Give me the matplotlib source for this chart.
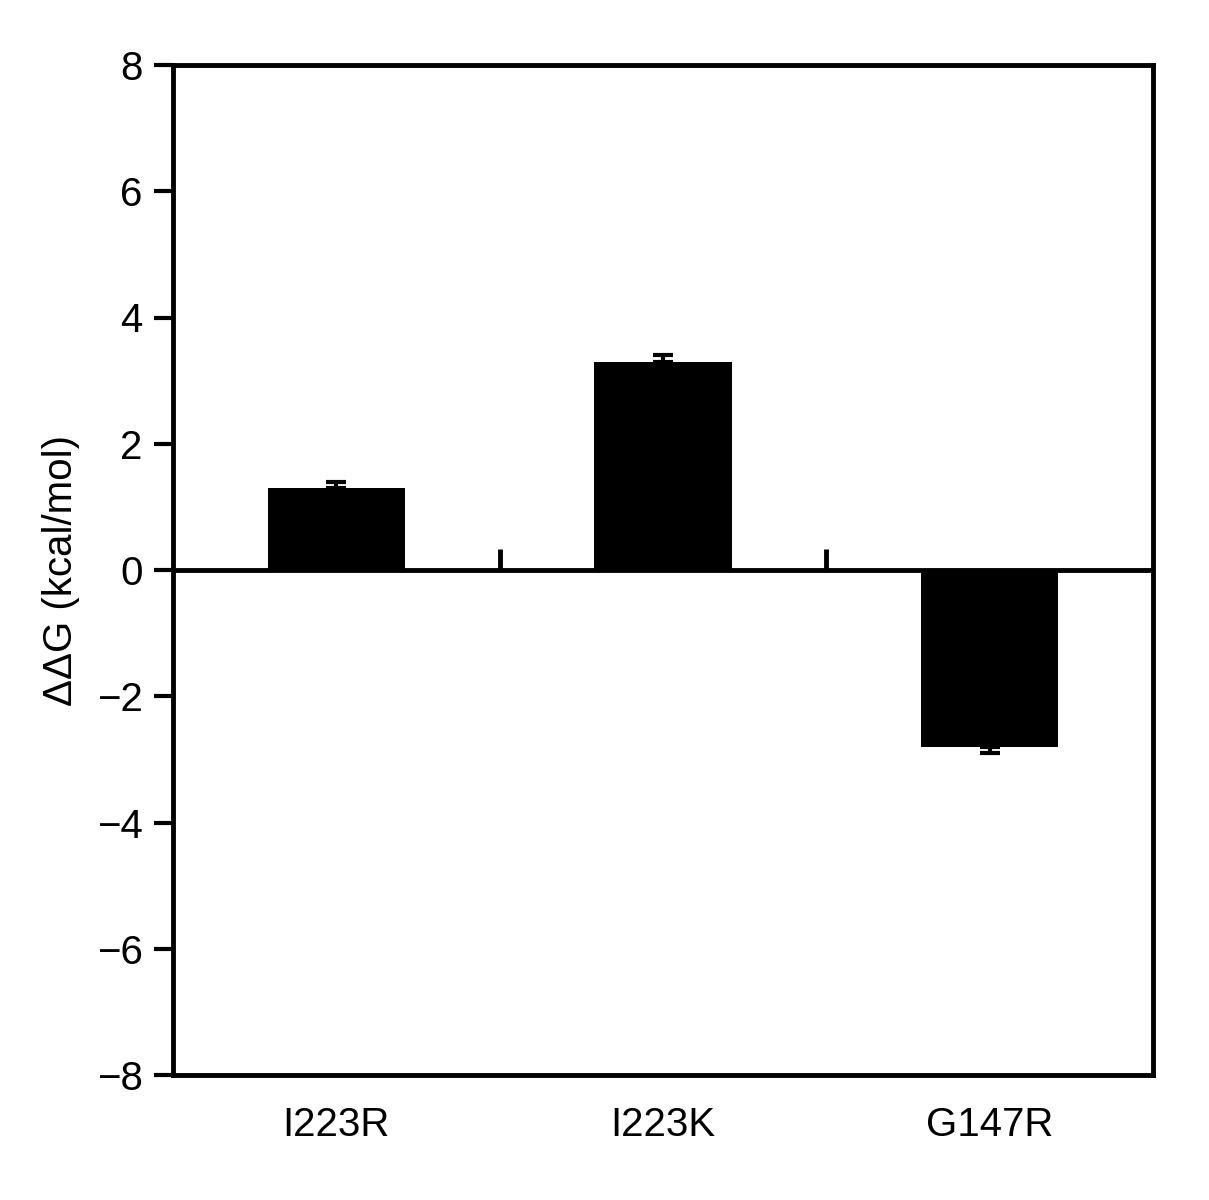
import matplotlib
matplotlib.use("Agg")
import matplotlib.pyplot as plt

categories = ["I223R", "I223K", "G147R"]
values = [1.3, 3.3, -2.8]
errors = [0.1, 0.1, 0.1]

plt.rcParams['font.family'] = ['Liberation Sans', 'DejaVu Sans']
fig = plt.figure(figsize=(12.09, 12.0), dpi=100)
ax = fig.add_axes([173/1209, 1 - 1075/1200, 980/1209, 1010/1200])

x = list(range(len(categories)))
lower = [0 if v > 0 else e for v, e in zip(values, errors)]
upper = [e if v > 0 else 0 for v, e in zip(values, errors)]
ax.bar(x, values, width=0.42, color="black", zorder=2)
ax.errorbar(x, values, yerr=[lower, upper], fmt="none", ecolor="black",
            elinewidth=3, capsize=7, capthick=3, zorder=3)

ax.set_xlim(-0.5, 2.5)
ax.set_ylim(-8, 8)
ax.set_yticks(range(-8, 9, 2))
ax.set_xticks(x)
ax.set_xticklabels(categories)
ax.tick_params(axis='x', length=0, pad=22, labelsize=29)
ax.tick_params(axis='y', length=14, width=3, labelsize=29, pad=8)
for s in ax.spines.values():
    s.set_linewidth(3.5)
ax.axhline(0, color="black", linewidth=3.5, zorder=4)

sec = ax.secondary_xaxis(0.5)
sec.set_xticks([0.5, 1.5])
sec.set_xticklabels(["", ""])
sec.tick_params(length=15, width=3.5, direction='out')
sec.spines['bottom'].set_visible(False)

ax.set_ylabel("ΔΔG (kcal/mol)", fontsize=29, labelpad=12)
fig.savefig("out.png", dpi=100)
